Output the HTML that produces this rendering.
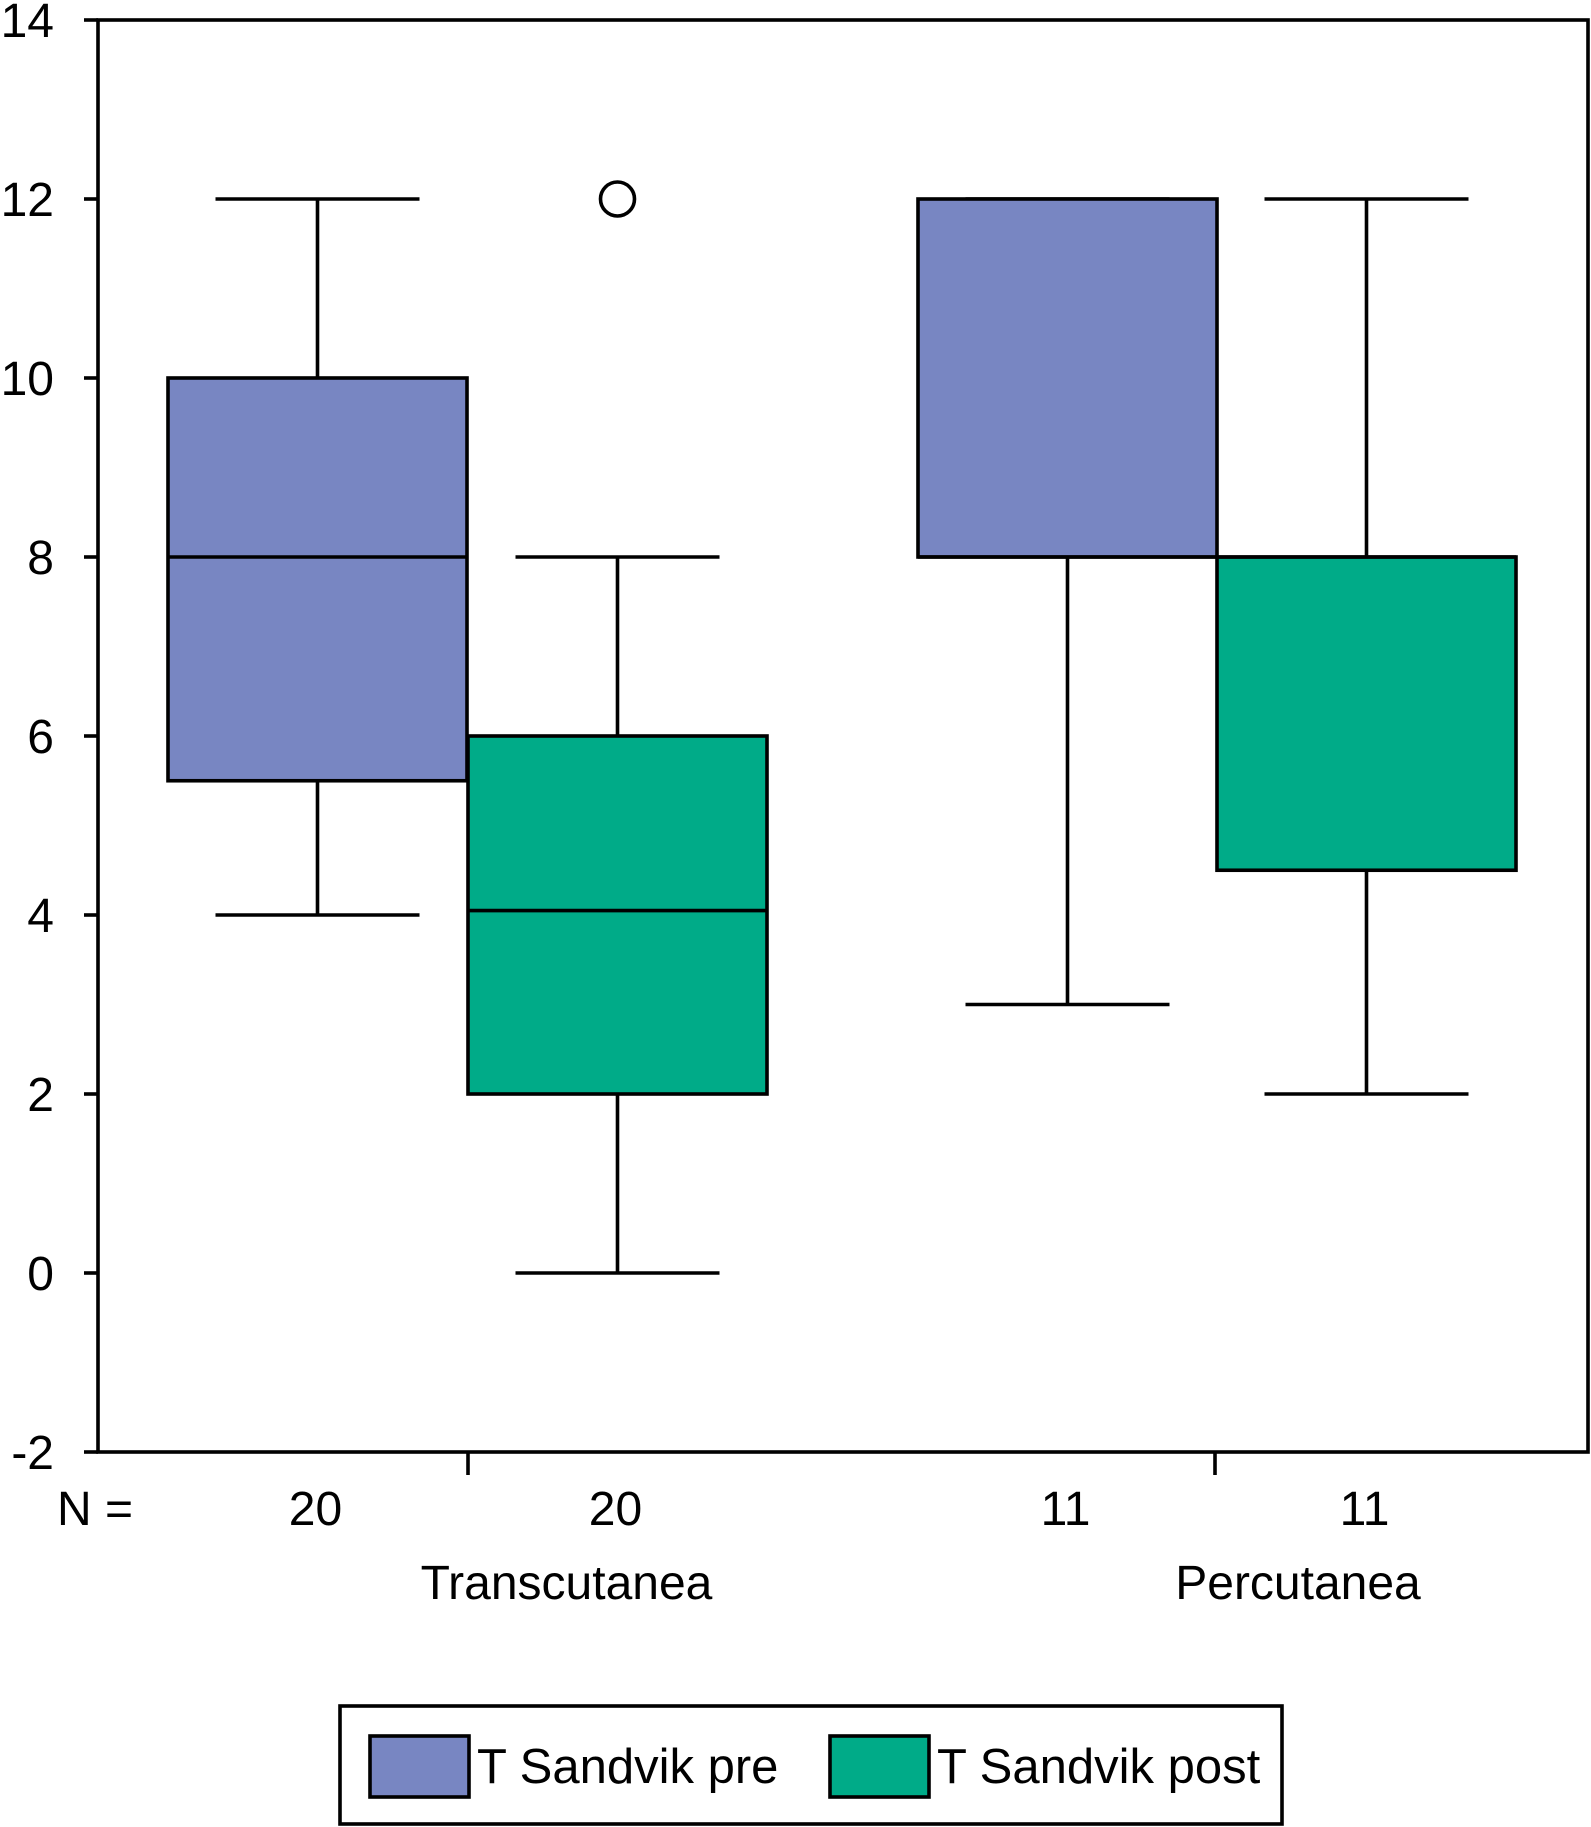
<!DOCTYPE html>
<html><head><meta charset="utf-8"><style>
html,body{margin:0;padding:0;background:#fff;}
svg{display:block;font-family:"Liberation Sans",Arial,sans-serif;}
</style></head><body>
<svg id="chart" width="1591" height="1827" viewBox="0 0 1591 1827"></svg>
<script>
const yTicks=[-2,0,2,4,6,8,10,12,14];
const groups=["Transcutanea","Percutanea"];
const seriesNames=["T Sandvik pre","T Sandvik post"];
const counts=[20,20,11,11];
const mins=[4,0,3,2];
const q1s=[5.5,2,8,4.5];
const medians=[8,4.05,8,8];
const q3s=[10,6,12,8];
const maxs=[12,8,12,12];
const outliers=[[],[12],[],[]];
const colors=["#7886c2","#00ab88"];
const NS="http://www.w3.org/2000/svg";
const svg=document.getElementById('chart');
const L=98,R=1588,T=20,B=1452;
const SW=3.6;
const y=v=>B-(v-(-2))/(16)*(B-T);
const boxLeft=[168,468,918,1217];
const bw=299,cap=204;
function el(t,a,p){const e=document.createElementNS(NS,t);for(const k in a)e.setAttribute(k,a[k]);(p||svg).appendChild(e);return e;}
function txt(s,x,yy,anchor,size){const e=el('text',{x:x,y:yy,'text-anchor':anchor,'font-size':size,fill:'#000'});e.textContent=s;return e;}
const frame=el('rect',{x:L,y:T,width:R-L,height:B-T,fill:'none',stroke:'#000','stroke-width':SW});


yTicks.forEach(v=>{
  const t=el('line',{x1:L-14,x2:L,y1:y(v),y2:y(v),stroke:'#000','stroke-width':SW});
  
  
  const l=txt(String(v),54,y(v)+17,'end',48);
  
  
});
[468,1215].forEach(xx=>{
  const t=el('line',{x1:xx,x2:xx,y1:B,y2:B+23,stroke:'#000','stroke-width':SW});
  
  
});
counts.forEach((c,i)=>{
  const cx=boxLeft[i]+bw/2;
  const g=el('g',{});
  
  
  const s={stroke:'#000','stroke-width':SW};
  el('line',Object.assign({x1:cx,x2:cx,y1:y(maxs[i]),y2:y(q3s[i])},s),g);
  el('line',Object.assign({x1:cx,x2:cx,y1:y(q1s[i]),y2:y(mins[i])},s),g);
  el('line',Object.assign({x1:cx-cap/2,x2:cx+cap/2,y1:y(maxs[i]),y2:y(maxs[i])},s),g);
  el('line',Object.assign({x1:cx-cap/2,x2:cx+cap/2,y1:y(mins[i]),y2:y(mins[i])},s),g);
  el('rect',Object.assign({x:boxLeft[i],y:y(q3s[i]),width:bw,height:y(q1s[i])-y(q3s[i]),fill:colors[i%2]},s),g);
  el('line',Object.assign({x1:boxLeft[i],x2:boxLeft[i]+bw,y1:y(medians[i]),y2:y(medians[i])},s),g);
  outliers[i].forEach(o=>{
    const c2=el('circle',{cx:cx,cy:y(o),r:17,fill:'#fff',stroke:'#000','stroke-width':SW});
    
    
  });
  const n=txt(String(c),cx-2,1525,'middle',48);
  
  
});
const nl=txt('N =',57,1525,'start',48);


const groupOffsets=[99,81];
groups.forEach((g,i)=>{
  const cx=(boxLeft[i*2]+boxLeft[i*2+1]+bw)/2+groupOffsets[i];
  const t=txt(g,cx,1599,'middle',48);
  
  
});
const lg=el('rect',{x:340,y:1706,width:942,height:118,fill:'#fff',stroke:'#000','stroke-width':SW});


const sx=[370,830];
seriesNames.forEach((n,i)=>{
  const sw=el('rect',{x:sx[i],y:1736,width:99,height:61,fill:colors[i],stroke:'#000','stroke-width':SW});
  
  
  const t=txt(n,sx[i]+107,1783,'start',49);
  
  
});
</script>
</body></html>
